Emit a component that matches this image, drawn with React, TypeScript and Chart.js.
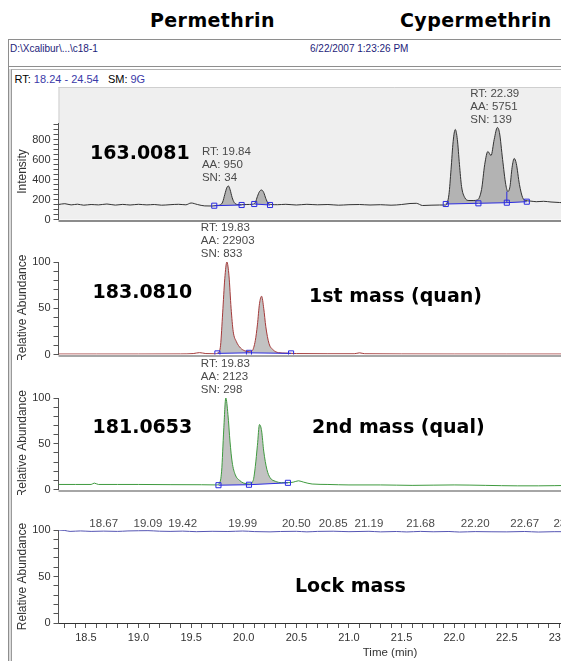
import React, { useEffect, useRef } from 'react';
import { Chart, registerables } from 'chart.js';

Chart.register(...registerables);
Chart.defaults.font.family = "'Liberation Sans', Arial, sans-serif";

const X_MIN = 18.24;
const X_MAX = 24.54;
const xMajorTicks = [18.5, 19.0, 19.5, 20.0, 20.5, 21.0, 21.5, 22.0, 22.5, 23.0, 23.5, 24.0, 24.5];

// ---------- Panel 1: m/z 163.0081 (intensity) ----------
const p1Times = [18.24, 18.30, 18.36, 18.42, 18.48, 18.55, 18.62, 18.70, 18.78, 18.85, 18.92, 19.00, 19.08, 19.15, 19.22, 19.30, 19.38, 19.45, 19.50, 19.56, 19.63, 19.70, 19.74, 19.78, 19.80, 19.82, 19.84, 19.855, 19.87, 19.89, 19.91, 19.94, 19.98, 20.03, 20.08, 20.11, 20.13, 20.15, 20.17, 20.19, 20.21, 20.23, 20.26, 20.32, 20.40, 20.50, 20.60, 20.70, 20.80, 20.90, 21.00, 21.10, 21.20, 21.30, 21.40, 21.50, 21.58, 21.64, 21.70, 21.78, 21.86, 21.92, 21.95, 21.97, 21.99, 22.01, 22.03, 22.05, 22.07, 22.10, 22.14, 22.18, 22.22, 22.26, 22.29, 22.32, 22.35, 22.38, 22.41, 22.43, 22.46, 22.49, 22.51, 22.53, 22.55, 22.57, 22.59, 22.62, 22.65, 22.68, 22.72, 22.78, 22.85, 22.92, 23.00, 23.08];
const p1Values = [150, 158, 146, 153, 143, 150, 146, 155, 144, 151, 145, 152, 146, 150, 143, 148, 152, 147, 165, 150, 136, 135, 140, 148, 175, 250, 320, 335, 300, 220, 170, 150, 148, 150, 152, 170, 230, 280, 295, 270, 210, 165, 150, 148, 152, 145, 152, 147, 150, 143, 148, 150, 145, 148, 143, 150, 160, 162, 140, 143, 145, 145, 250, 500, 780, 900, 800, 550, 330, 220, 190, 190, 195, 300, 550, 680, 640, 800, 920, 870, 600, 350, 280, 330, 520, 610, 560, 350, 220, 190, 185, 178, 182, 175, 170, 165];
const p1BaseTimes = [[19.72, 19.98], [20.10, 20.25], [21.92, 22.23, 22.50, 22.69]];
const p1BaseValues = [[138, 145], [155, 145], [155, 162, 168, 178]];
const p1SplitTimes = [22.50, 22.50];
const p1SplitValues = [168, 280];
const p1Notes = [
  { rt: 19.84, aa: 950, sn: 34, apex: 335 },
  { rt: 22.39, aa: 5751, sn: 139, apex: 920 },
];

// ---------- Panel 2: m/z 183.0810 (1st mass, quan) ----------
const p2Times = [18.24, 18.6, 19.0, 19.4, 19.52, 19.58, 19.64, 19.72, 19.76, 19.78, 19.80, 19.82, 19.84, 19.86, 19.88, 19.90, 19.93, 19.97, 20.01, 20.05, 20.08, 20.11, 20.13, 20.15, 20.17, 20.19, 20.21, 20.24, 20.28, 20.33, 20.40, 20.50, 20.80, 21.05, 21.10, 21.15, 21.50, 22.00, 22.50, 23.10];
const p2Values = [0.5, 0.5, 0.5, 0.6, 1, 2, 1, 0.8, 2, 10, 45, 82, 100, 85, 50, 25, 14, 7, 4, 3, 4, 15, 32, 55, 63, 50, 30, 12, 5, 2, 1.5, 1, 0.8, 0.8, 1.8, 0.8, 0.6, 0.5, 0.5, 0.5];
const p2BaseTimes = [[19.75, 20.05, 20.45]];
const p2BaseValues = [[1.2, 1.8, 1.2]];
const p2Notes = [{ rt: 19.83, aa: 22903, sn: 833, apex: 100 }];

// ---------- Panel 3: m/z 181.0653 (2nd mass, qual) ----------
const p3Times = [18.24, 18.40, 18.55, 18.58, 18.62, 18.80, 19.00, 19.30, 19.60, 19.74, 19.77, 19.79, 19.81, 19.83, 19.85, 19.87, 19.89, 19.92, 19.96, 20.00, 20.05, 20.09, 20.11, 20.13, 20.15, 20.17, 20.19, 20.22, 20.25, 20.30, 20.36, 20.42, 20.47, 20.52, 20.57, 20.65, 20.80, 21.00, 21.30, 21.60, 22.00, 22.30, 22.60, 22.80, 23.10];
const p3Values = [5.5, 5.5, 5.5, 7, 5.5, 5.5, 5.5, 5.3, 5.2, 5, 7, 20, 65, 100, 82, 52, 30, 16, 10, 7, 6, 10, 25, 48, 71, 64, 42, 22, 13, 9, 7.5, 7.5, 8, 9.5, 8, 6, 5.5, 5, 5, 4.5, 5, 4.5, 4, 4, 4.5];
const p3BaseTimes = [[19.76, 20.05, 20.42]];
const p3BaseValues = [[4.7, 5.2, 7.3]];
const p3Notes = [{ rt: 19.83, aa: 2123, sn: 298, apex: 100 }];

// ---------- Panel 4: lock mass ----------
const p4Times = [18.24, 18.30, 18.35, 18.45, 18.55, 18.67, 18.80, 18.90, 19.00, 19.09, 19.20, 19.30, 19.42, 19.55, 19.70, 19.85, 19.99, 20.10, 20.25, 20.35, 20.50, 20.60, 20.70, 20.85, 21.00, 21.19, 21.30, 21.45, 21.55, 21.68, 21.80, 21.95, 22.05, 22.20, 22.35, 22.50, 22.67, 22.80, 22.95, 23.10];
const p4Values = [100, 99.5, 98.5, 99, 98.5, 98.8, 98.5, 99, 99.2, 99.3, 98.7, 98.5, 98.8, 98.2, 98.6, 98.4, 98.9, 98.3, 98.0, 98.4, 98.6, 98.0, 98.5, 98.7, 98.2, 98.6, 98.0, 98.4, 97.9, 98.5, 98.1, 98.4, 97.8, 98.3, 98.1, 98.0, 98.4, 97.8, 98.2, 98.2];
const p4PeakLabels = [18.67, 19.09, 19.42, 19.99, 20.50, 20.85, 21.19, 21.68, 22.20, 22.67, 23.08];

const BLUE = '#2b2be0';
const CANVAS_W = 730;
const PLOT_LEFT = 58.5;
const PLOT_RIGHT_PAD = CANVAS_W - 721.5;
const TXT = "'Liberation Sans', Arial, sans-serif";

type Note = { rt: number; aa: number; sn: number; apex: number };
type PanelDef = {
  top: number; height: number; padTop: number; padBottom: number;
  times: number[]; values: number[]; color: string;
  baseTimes: number[][]; baseValues: number[][];
  yMax: number; yStep: number; yLabelEvery: number; yTitle: string;
  notes: Note[]; showX: boolean; greyBox?: boolean; bottomLine?: boolean;
  split?: { t: number[]; v: number[] }; peakLabels?: number[];
};

function buildConfig(p: PanelDef): any {
  const ds: any[] = [];
  ds.push({
    data: p.times.map((t, i) => ({ x: t, y: p.values[i] })),
    borderColor: p.color, borderWidth: 1, pointRadius: 0,
    cubicInterpolationMode: 'monotone', fill: false, order: 2,
  });
  p.baseTimes.forEach((bt, k) => {
    const bv = p.baseValues[k];
    const baseIndex = ds.length;
    ds.push({
      data: bt.map((t, i) => ({ x: t, y: bv[i] })),
      borderColor: BLUE, borderWidth: 1, tension: 0, fill: false, order: 1,
      pointStyle: 'rect', pointRadius: 3.6, pointBorderColor: BLUE,
      pointBackgroundColor: 'rgba(0,0,0,0)', pointBorderWidth: 1,
    });
    const t0 = bt[0];
    const t1 = bt[bt.length - 1];
    const region: any[] = [{ x: t0, y: bv[0] }];
    p.times.forEach((t, i) => { if (t > t0 && t < t1) region.push({ x: t, y: p.values[i] }); });
    region.push({ x: t1, y: bv[bv.length - 1] });
    ds.push({
      data: region, borderWidth: 0, borderColor: 'rgba(0,0,0,0)',
      backgroundColor: p.greyBox ? '#b3b3b3' : '#c2c2c2', pointRadius: 0,
      cubicInterpolationMode: 'monotone', fill: baseIndex, order: 3,
    });
  });
  if (p.split) {
    ds.push({
      data: p.split.t.map((t, i) => ({ x: t, y: p.split!.v[i] })),
      borderColor: BLUE, borderWidth: 1, pointRadius: 0, tension: 0, fill: false, order: 0,
    });
  }

  const overlay = {
    id: 'overlay',
    beforeDraw(chart: any) {
      const { ctx, chartArea } = chart;
      if (p.greyBox) {
        ctx.save();
        ctx.fillStyle = '#efefef';
        ctx.fillRect(chartArea.left, 7, CANVAS_W - chartArea.left, chartArea.bottom - 7);
        ctx.strokeStyle = '#cfcfcf';
        ctx.lineWidth = 1;
        ctx.beginPath();
        ctx.moveTo(chartArea.left, 7.5); ctx.lineTo(CANVAS_W, 7.5);
        ctx.moveTo(chartArea.left + 0.5, 7); ctx.lineTo(chartArea.left + 0.5, chartArea.top);
        ctx.stroke();
        ctx.restore();
      }
    },
    beforeDatasetsDraw(chart: any) {
      const { ctx, chartArea } = chart;
      if (p.greyBox || p.bottomLine) {
        ctx.save();
        ctx.strokeStyle = p.greyBox ? '#8c8c8c' : '#a6a6a6';
        ctx.lineWidth = 2;
        ctx.beginPath();
        ctx.moveTo(chartArea.left, chartArea.bottom + 1.5);
        ctx.lineTo(CANVAS_W, chartArea.bottom + 1.5);
        ctx.stroke();
        ctx.restore();
      }
    },
    afterDraw(chart: any) {
      const { ctx } = chart;
      const xs = chart.scales.x;
      const ys = chart.scales.y;
      ctx.save();
      ctx.font = `11.5px ${TXT}`;
      ctx.fillStyle = '#4a4a4a';
      ctx.textBaseline = 'alphabetic';
      p.notes.forEach((n) => {
        const x = xs.getPixelForValue(n.rt) - 25;
        const yLast = ys.getPixelForValue(n.apex) - 5;
        const lines = [`RT: ${n.rt.toFixed(2)}`, `AA: ${n.aa}`, `SN: ${n.sn}`];
        ctx.textAlign = 'left';
        lines.forEach((l, i) => ctx.fillText(l, x, yLast - (lines.length - 1 - i) * 13));
      });
      if (p.peakLabels) {
        ctx.textAlign = 'center';
        const y = ys.getPixelForValue(100) - 3.5;
        p.peakLabels.forEach((t) => ctx.fillText(t.toFixed(2), xs.getPixelForValue(t), y));
      }
      ctx.restore();
    },
  };

  return {
    type: 'line',
    data: { datasets: ds },
    plugins: [overlay],
    options: {
      animation: false,
      responsive: false,
      devicePixelRatio: 1,
      parsing: true,
      layout: { padding: { left: 0, right: PLOT_RIGHT_PAD, top: p.padTop, bottom: p.padBottom } },
      plugins: { legend: { display: false }, tooltip: { enabled: false } },
      events: [],
      scales: {
        x: {
          type: 'linear', min: X_MIN, max: X_MAX, display: p.showX,
          afterBuildTicks: (scale: any) => {
            const ticks: any[] = [];
            for (let k = 183; k <= 245; k++) ticks.push({ value: k / 10 });
            scale.ticks = ticks;
          },
          ticks: {
            autoSkip: false, maxRotation: 0, minRotation: 0, padding: 3,
            color: '#333', font: { size: 11 },
            callback: (v: any) => (xMajorTicks.some((m) => Math.abs(m - Number(v)) < 1e-6) ? Number(v).toFixed(1) : ''),
          },
          grid: { drawOnChartArea: false, drawTicks: true, tickLength: 5, tickColor: '#555', color: '#555' },
          border: { display: true, color: '#333' },
          title: { display: true, text: 'Time (min)', color: '#333', font: { size: 11.5 }, padding: { top: 0, bottom: 1 } },
          afterFit: (s: any) => { s.height = p.showX ? 38 : 0; s.paddingLeft = 0; s.paddingRight = 0; },
        },
        y: {
          type: 'linear', min: 0, max: p.yMax,
          ticks: {
            stepSize: p.yStep, includeBounds: false, autoSkip: false, maxTicksLimit: 1000,
            padding: 3, color: '#333', font: { size: 11 },
            callback: (v: any) => (Number(v) % p.yLabelEvery === 0 ? String(v) : ''),
          },
          grid: { drawOnChartArea: false, tickLength: 5, tickColor: '#555', color: '#555' },
          border: { display: true, color: '#555' },
          title: { display: true, text: p.yTitle, color: '#333', font: { size: 12 }, padding: { top: 15, bottom: 0 } },
          afterFit: (s: any) => { s.width = PLOT_LEFT; s.paddingTop = 0; s.paddingBottom = 0; },
        },
      },
    },
  };
}

const panels: PanelDef[] = [
  {
    top: 80, height: 145, padTop: 43.5, padBottom: 5.5,
    times: p1Times, values: p1Values, color: '#333333',
    baseTimes: p1BaseTimes, baseValues: p1BaseValues,
    yMax: 960, yStep: 50, yLabelEvery: 200, yTitle: 'Intensity',
    notes: p1Notes, showX: false, greyBox: true,
    split: { t: p1SplitTimes, v: p1SplitValues },
  },
  {
    top: 218, height: 142, padTop: 44, padBottom: 5.5,
    times: p2Times, values: p2Values, color: '#a43a3a',
    baseTimes: p2BaseTimes, baseValues: p2BaseValues,
    yMax: 100, yStep: 10, yLabelEvery: 50, yTitle: 'Relative Abundance',
    notes: p2Notes, showX: false, bottomLine: true,
  },
  {
    top: 352, height: 143, padTop: 46, padBottom: 5.5,
    times: p3Times, values: p3Values, color: '#3f9a3f',
    baseTimes: p3BaseTimes, baseValues: p3BaseValues,
    yMax: 100, yStep: 10, yLabelEvery: 50, yTitle: 'Relative Abundance',
    notes: p3Notes, showX: false, bottomLine: true,
  },
  {
    top: 505, height: 156, padTop: 25, padBottom: 0,
    times: p4Times, values: p4Values, color: '#5656b4',
    baseTimes: [], baseValues: [],
    yMax: 100, yStep: 10, yLabelEvery: 50, yTitle: 'Relative Abundance',
    notes: [], showX: true, peakLabels: p4PeakLabels,
  },
];

function PanelCanvas({ def }: { def: PanelDef }) {
  const ref = useRef<HTMLCanvasElement | null>(null);
  useEffect(() => {
    if (!ref.current) return;
    const chart = new Chart(ref.current, buildConfig(def));
    return () => chart.destroy();
  }, [def]);
  return (
    <canvas
      ref={ref}
      width={CANVAS_W}
      height={def.height}
      style={{ position: 'absolute', left: 0, top: def.top, width: CANVAS_W, height: def.height }}
    />
  );
}

const bigFont: React.CSSProperties = {
  position: 'absolute', fontFamily: "'DejaVu Sans', sans-serif", fontWeight: 'bold',
  fontSize: 19, lineHeight: '19px', color: '#000', whiteSpace: 'nowrap',
};
const smallFont = (size: number, color: string): React.CSSProperties => ({
  position: 'absolute', fontFamily: TXT, fontSize: size, lineHeight: `${size}px`, color, whiteSpace: 'pre',
});

export default function App() {
  return (
    <div style={{ position: 'fixed', left: 0, top: 0, width: 561, height: 661, overflow: 'hidden', background: '#fff' }}>
      <div style={{ ...bigFont, left: 150, top: 11, letterSpacing: 0.4 }}>Permethrin</div>
      <div style={{ ...bigFont, left: 400, top: 11, letterSpacing: 0.4 }}>Cypermethrin</div>

      <div style={{ position: 'absolute', left: 8, top: 39, width: 700, height: 700, border: '1px solid #8e8e8e', boxSizing: 'border-box' }} />
      <div style={{ position: 'absolute', left: 8, top: 66, width: 700, height: 1, background: '#8e8e8e' }} />
      <div style={{ position: 'absolute', left: 9, top: 69, width: 2, height: 700, background: '#dcdcdc' }} />
      <div style={{ position: 'absolute', left: 11, top: 69, width: 700, height: 700, borderLeft: '1px solid #9a9a9a', borderTop: '1px solid #b4b4b4' }} />

      <div style={{ ...smallFont(10, '#1d1d7a'), left: 10, top: 43.5 }}>{'D:\\Xcalibur\\...\\c18-1'}</div>
      <div style={{ ...smallFont(10, '#1d1d7a'), left: 310, top: 43.5 }}>6/22/2007 1:23:26 PM</div>
      <div style={{ ...smallFont(11, '#000'), left: 14.5, top: 73.7 }}>
        RT: <span style={{ color: '#3a3aa8' }}>18.24 - 24.54</span>{'   '}SM: <span style={{ color: '#3a3aa8' }}>9G</span>
      </div>

      {panels.map((d, i) => <PanelCanvas key={i} def={d} />)}

      <div style={{ ...bigFont, left: 90, top: 143 }}>163.0081</div>
      <div style={{ ...bigFont, left: 92.5, top: 282 }}>183.0810</div>
      <div style={{ ...bigFont, left: 309, top: 285.5 }}>1st mass (quan)</div>
      <div style={{ ...bigFont, left: 92.5, top: 417 }}>181.0653</div>
      <div style={{ ...bigFont, left: 312, top: 417 }}>2nd mass (qual)</div>
      <div style={{ ...bigFont, left: 295, top: 575.5 }}>Lock mass</div>
    </div>
  );
}
